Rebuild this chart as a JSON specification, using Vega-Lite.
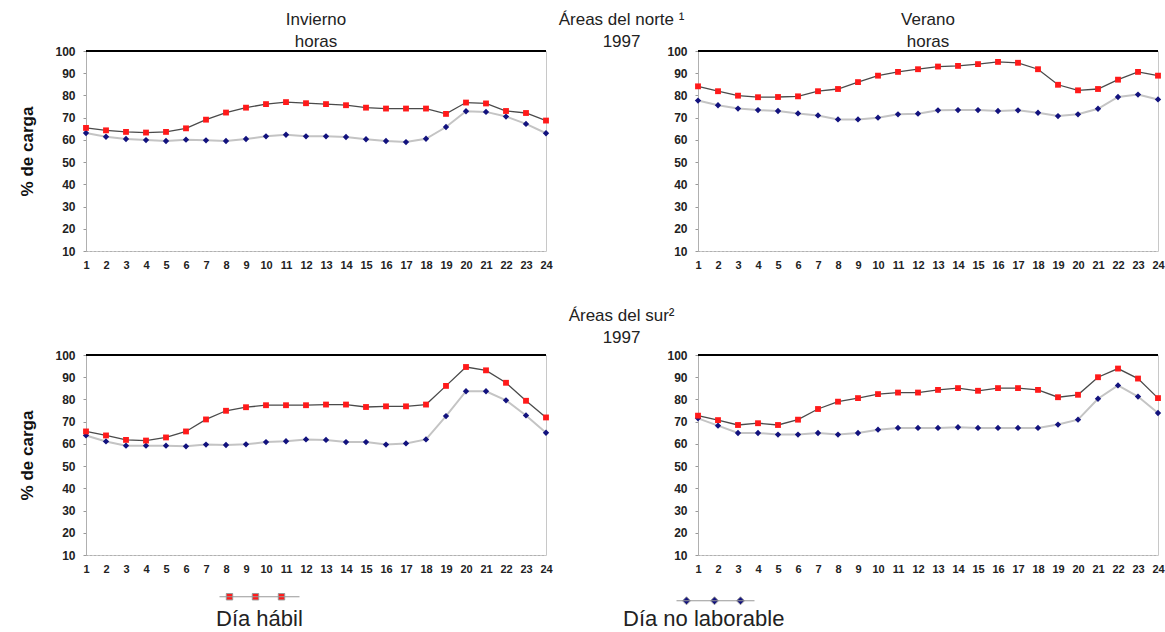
{
"$schema": "https://vega.github.io/schema/vega-lite/v6.json",
"padding": {"left": 18, "top": 10, "right": 5, "bottom": 2},
"background": "white",
"data": {"values": [
{"p":"TL","s":"Día hábil","h":1,"v":65.4},{"p":"TL","s":"Día hábil","h":2,"v":64.3},{"p":"TL","s":"Día hábil","h":3,"v":63.6},{"p":"TL","s":"Día hábil","h":4,"v":63.3},{"p":"TL","s":"Día hábil","h":5,"v":63.6},{"p":"TL","s":"Día hábil","h":6,"v":65.2},{"p":"TL","s":"Día hábil","h":7,"v":69.1},{"p":"TL","s":"Día hábil","h":8,"v":72.3},{"p":"TL","s":"Día hábil","h":9,"v":74.5},{"p":"TL","s":"Día hábil","h":10,"v":76.1},{"p":"TL","s":"Día hábil","h":11,"v":77.0},{"p":"TL","s":"Día hábil","h":12,"v":76.5},{"p":"TL","s":"Día hábil","h":13,"v":76.1},{"p":"TL","s":"Día hábil","h":14,"v":75.6},{"p":"TL","s":"Día hábil","h":15,"v":74.5},{"p":"TL","s":"Día hábil","h":16,"v":74.1},{"p":"TL","s":"Día hábil","h":17,"v":74.1},{"p":"TL","s":"Día hábil","h":18,"v":74.1},{"p":"TL","s":"Día hábil","h":19,"v":71.7},{"p":"TL","s":"Día hábil","h":20,"v":76.8},{"p":"TL","s":"Día hábil","h":21,"v":76.4},{"p":"TL","s":"Día hábil","h":22,"v":73.0},{"p":"TL","s":"Día hábil","h":23,"v":72.1},{"p":"TL","s":"Día hábil","h":24,"v":68.7},
{"p":"TL","s":"Día no laborable","h":1,"v":63.1},{"p":"TL","s":"Día no laborable","h":2,"v":61.4},{"p":"TL","s":"Día no laborable","h":3,"v":60.4},{"p":"TL","s":"Día no laborable","h":4,"v":59.9},{"p":"TL","s":"Día no laborable","h":5,"v":59.5},{"p":"TL","s":"Día no laborable","h":6,"v":60.1},{"p":"TL","s":"Día no laborable","h":7,"v":59.8},{"p":"TL","s":"Día no laborable","h":8,"v":59.5},{"p":"TL","s":"Día no laborable","h":9,"v":60.4},{"p":"TL","s":"Día no laborable","h":10,"v":61.6},{"p":"TL","s":"Día no laborable","h":11,"v":62.3},{"p":"TL","s":"Día no laborable","h":12,"v":61.6},{"p":"TL","s":"Día no laborable","h":13,"v":61.6},{"p":"TL","s":"Día no laborable","h":14,"v":61.3},{"p":"TL","s":"Día no laborable","h":15,"v":60.3},{"p":"TL","s":"Día no laborable","h":16,"v":59.5},{"p":"TL","s":"Día no laborable","h":17,"v":59.0},{"p":"TL","s":"Día no laborable","h":18,"v":60.5},{"p":"TL","s":"Día no laborable","h":19,"v":65.8},{"p":"TL","s":"Día no laborable","h":20,"v":72.9},{"p":"TL","s":"Día no laborable","h":21,"v":72.6},{"p":"TL","s":"Día no laborable","h":22,"v":70.5},{"p":"TL","s":"Día no laborable","h":23,"v":67.2},{"p":"TL","s":"Día no laborable","h":24,"v":63.0},
{"p":"TR","s":"Día hábil","h":1,"v":84.1},{"p":"TR","s":"Día hábil","h":2,"v":81.9},{"p":"TR","s":"Día hábil","h":3,"v":79.9},{"p":"TR","s":"Día hábil","h":4,"v":79.2},{"p":"TR","s":"Día hábil","h":5,"v":79.3},{"p":"TR","s":"Día hábil","h":6,"v":79.6},{"p":"TR","s":"Día hábil","h":7,"v":81.9},{"p":"TR","s":"Día hábil","h":8,"v":82.9},{"p":"TR","s":"Día hábil","h":9,"v":86.0},{"p":"TR","s":"Día hábil","h":10,"v":88.9},{"p":"TR","s":"Día hábil","h":11,"v":90.6},{"p":"TR","s":"Día hábil","h":12,"v":91.8},{"p":"TR","s":"Día hábil","h":13,"v":93.0},{"p":"TR","s":"Día hábil","h":14,"v":93.3},{"p":"TR","s":"Día hábil","h":15,"v":94.1},{"p":"TR","s":"Día hábil","h":16,"v":95.1},{"p":"TR","s":"Día hábil","h":17,"v":94.7},{"p":"TR","s":"Día hábil","h":18,"v":91.8},{"p":"TR","s":"Día hábil","h":19,"v":84.8},{"p":"TR","s":"Día hábil","h":20,"v":82.3},{"p":"TR","s":"Día hábil","h":21,"v":82.9},{"p":"TR","s":"Día hábil","h":22,"v":87.1},{"p":"TR","s":"Día hábil","h":23,"v":90.6},{"p":"TR","s":"Día hábil","h":24,"v":88.9},
{"p":"TR","s":"Día no laborable","h":1,"v":77.7},{"p":"TR","s":"Día no laborable","h":2,"v":75.6},{"p":"TR","s":"Día no laborable","h":3,"v":74.1},{"p":"TR","s":"Día no laborable","h":4,"v":73.4},{"p":"TR","s":"Día no laborable","h":5,"v":73.0},{"p":"TR","s":"Día no laborable","h":6,"v":71.9},{"p":"TR","s":"Día no laborable","h":7,"v":71.0},{"p":"TR","s":"Día no laborable","h":8,"v":69.2},{"p":"TR","s":"Día no laborable","h":9,"v":69.2},{"p":"TR","s":"Día no laborable","h":10,"v":70.0},{"p":"TR","s":"Día no laborable","h":11,"v":71.5},{"p":"TR","s":"Día no laborable","h":12,"v":71.8},{"p":"TR","s":"Día no laborable","h":13,"v":73.3},{"p":"TR","s":"Día no laborable","h":14,"v":73.4},{"p":"TR","s":"Día no laborable","h":15,"v":73.4},{"p":"TR","s":"Día no laborable","h":16,"v":73.0},{"p":"TR","s":"Día no laborable","h":17,"v":73.3},{"p":"TR","s":"Día no laborable","h":18,"v":72.2},{"p":"TR","s":"Día no laborable","h":19,"v":70.7},{"p":"TR","s":"Día no laborable","h":20,"v":71.5},{"p":"TR","s":"Día no laborable","h":21,"v":74.0},{"p":"TR","s":"Día no laborable","h":22,"v":79.3},{"p":"TR","s":"Día no laborable","h":23,"v":80.4},{"p":"TR","s":"Día no laborable","h":24,"v":78.2},
{"p":"BL","s":"Día hábil","h":1,"v":65.6},{"p":"BL","s":"Día hábil","h":2,"v":63.8},{"p":"BL","s":"Día hábil","h":3,"v":61.8},{"p":"BL","s":"Día hábil","h":4,"v":61.5},{"p":"BL","s":"Día hábil","h":5,"v":62.9},{"p":"BL","s":"Día hábil","h":6,"v":65.6},{"p":"BL","s":"Día hábil","h":7,"v":71.0},{"p":"BL","s":"Día hábil","h":8,"v":74.9},{"p":"BL","s":"Día hábil","h":9,"v":76.5},{"p":"BL","s":"Día hábil","h":10,"v":77.4},{"p":"BL","s":"Día hábil","h":11,"v":77.4},{"p":"BL","s":"Día hábil","h":12,"v":77.4},{"p":"BL","s":"Día hábil","h":13,"v":77.7},{"p":"BL","s":"Día hábil","h":14,"v":77.7},{"p":"BL","s":"Día hábil","h":15,"v":76.6},{"p":"BL","s":"Día hábil","h":16,"v":76.9},{"p":"BL","s":"Día hábil","h":17,"v":76.9},{"p":"BL","s":"Día hábil","h":18,"v":77.7},{"p":"BL","s":"Día hábil","h":19,"v":86.1},{"p":"BL","s":"Día hábil","h":20,"v":94.6},{"p":"BL","s":"Día hábil","h":21,"v":93.1},{"p":"BL","s":"Día hábil","h":22,"v":87.5},{"p":"BL","s":"Día hábil","h":23,"v":79.4},{"p":"BL","s":"Día hábil","h":24,"v":71.9},
{"p":"BL","s":"Día no laborable","h":1,"v":63.8},{"p":"BL","s":"Día no laborable","h":2,"v":61.1},{"p":"BL","s":"Día no laborable","h":3,"v":59.2},{"p":"BL","s":"Día no laborable","h":4,"v":59.2},{"p":"BL","s":"Día no laborable","h":5,"v":59.2},{"p":"BL","s":"Día no laborable","h":6,"v":58.9},{"p":"BL","s":"Día no laborable","h":7,"v":59.7},{"p":"BL","s":"Día no laborable","h":8,"v":59.5},{"p":"BL","s":"Día no laborable","h":9,"v":59.8},{"p":"BL","s":"Día no laborable","h":10,"v":60.8},{"p":"BL","s":"Día no laborable","h":11,"v":61.2},{"p":"BL","s":"Día no laborable","h":12,"v":62.0},{"p":"BL","s":"Día no laborable","h":13,"v":61.8},{"p":"BL","s":"Día no laborable","h":14,"v":60.8},{"p":"BL","s":"Día no laborable","h":15,"v":60.8},{"p":"BL","s":"Día no laborable","h":16,"v":59.7},{"p":"BL","s":"Día no laborable","h":17,"v":60.2},{"p":"BL","s":"Día no laborable","h":18,"v":62.0},{"p":"BL","s":"Día no laborable","h":19,"v":72.5},{"p":"BL","s":"Día no laborable","h":20,"v":83.7},{"p":"BL","s":"Día no laborable","h":21,"v":83.7},{"p":"BL","s":"Día no laborable","h":22,"v":79.6},{"p":"BL","s":"Día no laborable","h":23,"v":72.8},{"p":"BL","s":"Día no laborable","h":24,"v":65.0},
{"p":"BR","s":"Día hábil","h":1,"v":72.7},{"p":"BR","s":"Día hábil","h":2,"v":70.7},{"p":"BR","s":"Día hábil","h":3,"v":68.5},{"p":"BR","s":"Día hábil","h":4,"v":69.3},{"p":"BR","s":"Día hábil","h":5,"v":68.5},{"p":"BR","s":"Día hábil","h":6,"v":70.9},{"p":"BR","s":"Día hábil","h":7,"v":75.7},{"p":"BR","s":"Día hábil","h":8,"v":79.0},{"p":"BR","s":"Día hábil","h":9,"v":80.6},{"p":"BR","s":"Día hábil","h":10,"v":82.4},{"p":"BR","s":"Día hábil","h":11,"v":83.1},{"p":"BR","s":"Día hábil","h":12,"v":83.1},{"p":"BR","s":"Día hábil","h":13,"v":84.3},{"p":"BR","s":"Día hábil","h":14,"v":85.1},{"p":"BR","s":"Día hábil","h":15,"v":83.9},{"p":"BR","s":"Día hábil","h":16,"v":85.1},{"p":"BR","s":"Día hábil","h":17,"v":85.1},{"p":"BR","s":"Día hábil","h":18,"v":84.3},{"p":"BR","s":"Día hábil","h":19,"v":81.0},{"p":"BR","s":"Día hábil","h":20,"v":82.1},{"p":"BR","s":"Día hábil","h":21,"v":90.0},{"p":"BR","s":"Día hábil","h":22,"v":93.9},{"p":"BR","s":"Día hábil","h":23,"v":89.4},{"p":"BR","s":"Día hábil","h":24,"v":80.6},
{"p":"BR","s":"Día no laborable","h":1,"v":71.5},{"p":"BR","s":"Día no laborable","h":2,"v":68.2},{"p":"BR","s":"Día no laborable","h":3,"v":64.9},{"p":"BR","s":"Día no laborable","h":4,"v":64.9},{"p":"BR","s":"Día no laborable","h":5,"v":64.2},{"p":"BR","s":"Día no laborable","h":6,"v":64.2},{"p":"BR","s":"Día no laborable","h":7,"v":64.9},{"p":"BR","s":"Día no laborable","h":8,"v":64.2},{"p":"BR","s":"Día no laborable","h":9,"v":64.9},{"p":"BR","s":"Día no laborable","h":10,"v":66.4},{"p":"BR","s":"Día no laborable","h":11,"v":67.2},{"p":"BR","s":"Día no laborable","h":12,"v":67.2},{"p":"BR","s":"Día no laborable","h":13,"v":67.2},{"p":"BR","s":"Día no laborable","h":14,"v":67.5},{"p":"BR","s":"Día no laborable","h":15,"v":67.2},{"p":"BR","s":"Día no laborable","h":16,"v":67.2},{"p":"BR","s":"Día no laborable","h":17,"v":67.2},{"p":"BR","s":"Día no laborable","h":18,"v":67.2},{"p":"BR","s":"Día no laborable","h":19,"v":68.7},{"p":"BR","s":"Día no laborable","h":20,"v":70.9},{"p":"BR","s":"Día no laborable","h":21,"v":80.3},{"p":"BR","s":"Día no laborable","h":22,"v":86.3},{"p":"BR","s":"Día no laborable","h":23,"v":81.3},{"p":"BR","s":"Día no laborable","h":24,"v":73.9}
]},
"vconcat": [
{
 "title": {"text": ["Áreas del norte ¹", "1997"], "anchor": "middle", "offset": -40, "dx": 30},
 "spacing": 113,
 "hconcat": [
 {
  "width": 460, "height": 200,
  "title": {"text": ["Invierno", "horas"], "frame": "group"},
  "transform": [{"filter": "datum.p === 'TL'"}],
  "layer": [
   {"transform": [{"filter": "datum.s === 'Día no laborable'"}], "mark": {"type": "line", "color": "#c4c4c4", "strokeWidth": 2}, "encoding": {
     "x": {"field": "h", "type": "quantitative", "scale": {"domain": [1, 24], "nice": false, "zero": false}, "axis": {"values": [1,2,3,4,5,6,7,8,9,10,11,12,13,14,15,16,17,18,19,20,21,22,23,24], "tickCount": 24, "title": null, "labelOverlap": false, "labelFlush": false}},
     "y": {"field": "v", "type": "quantitative", "scale": {"domain": [10, 100], "nice": false, "zero": false}, "axis": {"values": [10,20,30,40,50,60,70,80,90,100], "tickCount": 10, "title": "% de carga", "labelOverlap": false}}}},
   {"transform": [{"filter": "datum.s === 'Día hábil'"}], "mark": {"type": "line", "color": "#4a4a4a", "strokeWidth": 1.3}, "encoding": {"x": {"field": "h", "type": "quantitative"}, "y": {"field": "v", "type": "quantitative"}}},
   {"transform": [{"filter": "datum.s === 'Día no laborable'"}], "mark": {"type": "point", "shape": "diamond", "filled": true, "opacity": 1, "size": 40}, "encoding": {"x": {"field": "h", "type": "quantitative"}, "y": {"field": "v", "type": "quantitative"},
     "fill": {"field": "s", "type": "nominal", "scale": {"domain": ["Día hábil", "Día no laborable"], "range": ["#ff1a1a", "#12127e"]}}}},
   {"transform": [{"filter": "datum.s === 'Día hábil'"}], "mark": {"type": "point", "shape": "square", "filled": true, "opacity": 1, "size": 34}, "encoding": {"x": {"field": "h", "type": "quantitative"}, "y": {"field": "v", "type": "quantitative"},
     "fill": {"field": "s", "type": "nominal", "scale": {"domain": ["Día hábil", "Día no laborable"], "range": ["#ff1a1a", "#12127e"]},
       "legend": {"title": null, "orient": "none", "legendX": 133, "legendY": 517, "direction": "horizontal", "padding": 0, "symbolSize": 6400, "symbolOpacity": 1, "symbolStrokeColor": "#999999", "symbolStrokeWidth": 1, "labelFont": "Liberation Sans", "labelFontSize": 22, "labelFontWeight": "normal", "labelColor": "#222", "labelLimit": 300, "labelBaseline": "top", "labelOffset": -84, "columnPadding": 320}}}},
   {"transform": [{"filter": "datum.h === 1"}], "mark": {"type": "point", "filled": true, "opacity": 0}, "encoding": {"x": {"field": "h", "type": "quantitative"}, "y": {"field": "v", "type": "quantitative"},
     "fill": {"field": "s", "type": "nominal", "scale": {"domain": ["Día hábil", "Día no laborable"], "range": ["#ff1a1a", "#12127e"]}},
     "shape": {"field": "s", "type": "nominal", "scale": {"domain": ["Día hábil", "Día no laborable"], "range": ["M-1,-0.3H1M-0.83,-0.38h0.16v0.16h-0.16zM-0.18,-0.38h0.16v0.16h-0.16zM0.47,-0.38h0.16v0.16h-0.16z", "M0.25,-0.2H2.2M0.5,-0.3l0.1,0.1l-0.1,0.1l-0.1,-0.1zM1.2,-0.3l0.1,0.1l-0.1,0.1l-0.1,-0.1zM1.85,-0.3l0.1,0.1l-0.1,0.1l-0.1,-0.1z"]}}}},
   {"mark": {"type": "rule", "color": "#000", "strokeWidth": 1}, "encoding": {"y": {"datum": 100, "type": "quantitative"}}}
  ]
 },
 {
  "width": 460, "height": 200,
  "title": {"text": ["Verano", "horas"], "frame": "group"},
  "transform": [{"filter": "datum.p === 'TR'"}],
  "layer": [
   {"transform": [{"filter": "datum.s === 'Día no laborable'"}], "mark": {"type": "line", "color": "#c4c4c4", "strokeWidth": 2}, "encoding": {
     "x": {"field": "h", "type": "quantitative", "scale": {"domain": [1, 24], "nice": false, "zero": false}, "axis": {"values": [1,2,3,4,5,6,7,8,9,10,11,12,13,14,15,16,17,18,19,20,21,22,23,24], "tickCount": 24, "title": null, "labelOverlap": false, "labelFlush": false}},
     "y": {"field": "v", "type": "quantitative", "scale": {"domain": [10, 100], "nice": false, "zero": false}, "axis": {"values": [10,20,30,40,50,60,70,80,90,100], "tickCount": 10, "title": null, "labelOverlap": false}}}},
   {"transform": [{"filter": "datum.s === 'Día hábil'"}], "mark": {"type": "line", "color": "#4a4a4a", "strokeWidth": 1.3}, "encoding": {"x": {"field": "h", "type": "quantitative"}, "y": {"field": "v", "type": "quantitative"}}},
   {"transform": [{"filter": "datum.s === 'Día no laborable'"}], "mark": {"type": "point", "shape": "diamond", "filled": true, "opacity": 1, "size": 40}, "encoding": {"x": {"field": "h", "type": "quantitative"}, "y": {"field": "v", "type": "quantitative"},
     "fill": {"field": "s", "type": "nominal", "scale": {"domain": ["Día hábil", "Día no laborable"], "range": ["#ff1a1a", "#12127e"]}}}},
   {"transform": [{"filter": "datum.s === 'Día hábil'"}], "mark": {"type": "point", "shape": "square", "filled": true, "opacity": 1, "size": 34}, "encoding": {"x": {"field": "h", "type": "quantitative"}, "y": {"field": "v", "type": "quantitative"},
     "fill": {"field": "s", "type": "nominal", "scale": {"domain": ["Día hábil", "Día no laborable"], "range": ["#ff1a1a", "#12127e"]}}}},
   {"mark": {"type": "rule", "color": "#000", "strokeWidth": 1}, "encoding": {"y": {"datum": 100, "type": "quantitative"}}}
  ]
 }
 ]
},
{
 "title": {"text": ["Áreas del sur²", "1997"], "anchor": "middle", "offset": 2, "dx": 30},
 "spacing": 113,
 "hconcat": [
 {
  "width": 460, "height": 200,
  "transform": [{"filter": "datum.p === 'BL'"}],
  "layer": [
   {"transform": [{"filter": "datum.s === 'Día no laborable'"}], "mark": {"type": "line", "color": "#c4c4c4", "strokeWidth": 2}, "encoding": {
     "x": {"field": "h", "type": "quantitative", "scale": {"domain": [1, 24], "nice": false, "zero": false}, "axis": {"values": [1,2,3,4,5,6,7,8,9,10,11,12,13,14,15,16,17,18,19,20,21,22,23,24], "tickCount": 24, "title": null, "labelOverlap": false, "labelFlush": false}},
     "y": {"field": "v", "type": "quantitative", "scale": {"domain": [10, 100], "nice": false, "zero": false}, "axis": {"values": [10,20,30,40,50,60,70,80,90,100], "tickCount": 10, "title": "% de carga", "labelOverlap": false}}}},
   {"transform": [{"filter": "datum.s === 'Día hábil'"}], "mark": {"type": "line", "color": "#4a4a4a", "strokeWidth": 1.3}, "encoding": {"x": {"field": "h", "type": "quantitative"}, "y": {"field": "v", "type": "quantitative"}}},
   {"transform": [{"filter": "datum.s === 'Día no laborable'"}], "mark": {"type": "point", "shape": "diamond", "filled": true, "opacity": 1, "size": 40}, "encoding": {"x": {"field": "h", "type": "quantitative"}, "y": {"field": "v", "type": "quantitative"},
     "fill": {"field": "s", "type": "nominal", "scale": {"domain": ["Día hábil", "Día no laborable"], "range": ["#ff1a1a", "#12127e"]}}}},
   {"transform": [{"filter": "datum.s === 'Día hábil'"}], "mark": {"type": "point", "shape": "square", "filled": true, "opacity": 1, "size": 34}, "encoding": {"x": {"field": "h", "type": "quantitative"}, "y": {"field": "v", "type": "quantitative"},
     "fill": {"field": "s", "type": "nominal", "scale": {"domain": ["Día hábil", "Día no laborable"], "range": ["#ff1a1a", "#12127e"]}}}},
   {"mark": {"type": "rule", "color": "#000", "strokeWidth": 1}, "encoding": {"y": {"datum": 100, "type": "quantitative"}}}
  ]
 },
 {
  "width": 460, "height": 200,
  "transform": [{"filter": "datum.p === 'BR'"}],
  "layer": [
   {"transform": [{"filter": "datum.s === 'Día no laborable'"}], "mark": {"type": "line", "color": "#c4c4c4", "strokeWidth": 2}, "encoding": {
     "x": {"field": "h", "type": "quantitative", "scale": {"domain": [1, 24], "nice": false, "zero": false}, "axis": {"values": [1,2,3,4,5,6,7,8,9,10,11,12,13,14,15,16,17,18,19,20,21,22,23,24], "tickCount": 24, "title": null, "labelOverlap": false, "labelFlush": false}},
     "y": {"field": "v", "type": "quantitative", "scale": {"domain": [10, 100], "nice": false, "zero": false}, "axis": {"values": [10,20,30,40,50,60,70,80,90,100], "tickCount": 10, "title": null, "labelOverlap": false}}}},
   {"transform": [{"filter": "datum.s === 'Día hábil'"}], "mark": {"type": "line", "color": "#4a4a4a", "strokeWidth": 1.3}, "encoding": {"x": {"field": "h", "type": "quantitative"}, "y": {"field": "v", "type": "quantitative"}}},
   {"transform": [{"filter": "datum.s === 'Día no laborable'"}], "mark": {"type": "point", "shape": "diamond", "filled": true, "opacity": 1, "size": 40}, "encoding": {"x": {"field": "h", "type": "quantitative"}, "y": {"field": "v", "type": "quantitative"},
     "fill": {"field": "s", "type": "nominal", "scale": {"domain": ["Día hábil", "Día no laborable"], "range": ["#ff1a1a", "#12127e"]}}}},
   {"transform": [{"filter": "datum.s === 'Día hábil'"}], "mark": {"type": "point", "shape": "square", "filled": true, "opacity": 1, "size": 34}, "encoding": {"x": {"field": "h", "type": "quantitative"}, "y": {"field": "v", "type": "quantitative"},
     "fill": {"field": "s", "type": "nominal", "scale": {"domain": ["Día hábil", "Día no laborable"], "range": ["#ff1a1a", "#12127e"]}}}},
   {"mark": {"type": "rule", "color": "#000", "strokeWidth": 1}, "encoding": {"y": {"datum": 100, "type": "quantitative"}}}
  ]
 }
 ]
}
],
"spacing": 35,
"config": {
 "view": {"stroke": "#c8c8c8", "strokeWidth": 1},
 "font": "Liberation Sans",
 "title": {"font": "Liberation Sans", "fontSize": 17, "fontWeight": "normal", "color": "#222", "lineHeight": 22, "offset": -6},
 "axis": {"labelFont": "Liberation Sans", "labelFontWeight": "bold", "labelColor": "#222", "grid": false, "titleFont": "Liberation Sans", "titleFontSize": 17, "titleFontWeight": "bold", "titleColor": "#111"},
 "axisX": {"labelFontSize": 11, "ticks": false, "labelPadding": 8, "domainColor": "#999", "domainDash": [1, 3]},
 "axisY": {"labelFontSize": 12, "tickSize": 3, "tickColor": "#999", "domainColor": "#b0b0b0", "labelPadding": 8, "titlePadding": 18}
}
}
